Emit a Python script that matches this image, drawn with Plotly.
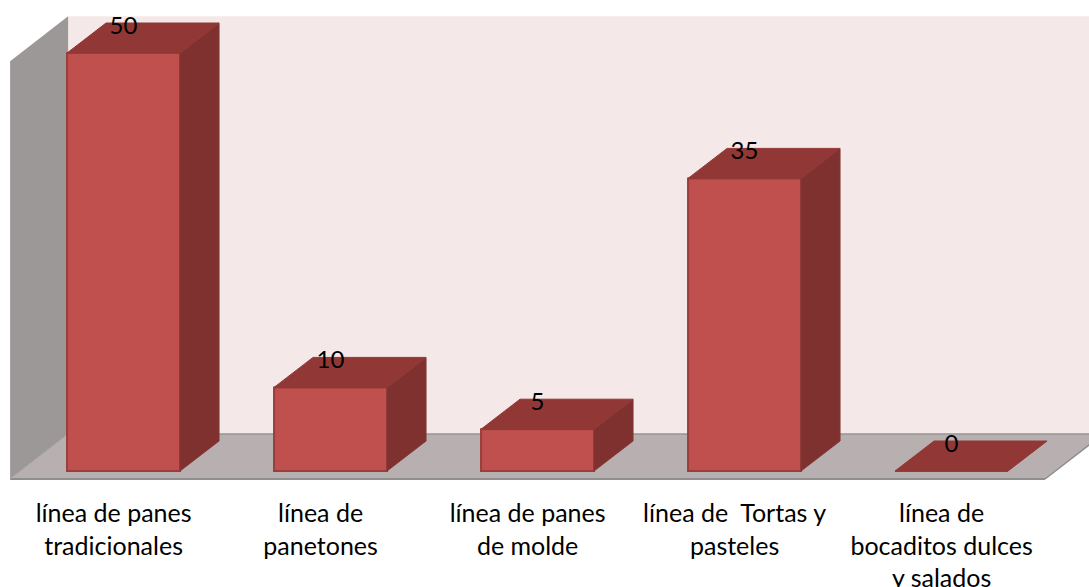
import plotly.graph_objects as go

# Chart content
categories = [
    "línea de panes<br>tradicionales",
    "línea de<br>panetones",
    "línea de panes<br>de molde",
    "línea de  Tortas y<br>pasteles",
    "línea de<br>bocaditos dulces<br>y salados",
]
values = [50, 10, 5, 35, 0]

# Oblique projection, expressed in axis units
BAR_WIDTH = 113 / 207
BAR_SHIFT = 0.048
BAR_DX, BAR_DY = 39 / 207, 30 / 8.36
WALL_DX, WALL_DY = 58 / 207, 45 / 8.36
FLOOR_LEFT, FLOOR_RIGHT = -0.5, 4.5
FLOOR_FRONT = -0.957
WALL_TOP = 54.4
LABEL_LIFT = 3.0

FONT = "Lato, Carlito, sans-serif"
positions = [i + BAR_SHIFT for i in range(len(values))]


def path(points):
    return "M " + " L ".join(f"{x},{y}" for x, y in points) + " Z"


def polygons(faces):
    xs, ys = [], []
    for face in faces:
        xs += [p[0] for p in face] + [face[0][0], None]
        ys += [p[1] for p in face] + [face[0][1], None]
    return xs, ys


back_y = FLOOR_FRONT + WALL_DY
back_x = FLOOR_LEFT + WALL_DX

back_wall = [(back_x, back_y), (back_x, WALL_TOP), (FLOOR_RIGHT + WALL_DX, WALL_TOP), (FLOOR_RIGHT + WALL_DX, back_y)]
left_wall = [(FLOOR_LEFT, FLOOR_FRONT), (back_x, back_y), (back_x, WALL_TOP), (FLOOR_LEFT, WALL_TOP - WALL_DY)]
floor = [(FLOOR_LEFT, FLOOR_FRONT), (FLOOR_RIGHT, FLOOR_FRONT), (FLOOR_RIGHT + WALL_DX, back_y), (back_x, back_y)]

shapes = [
    dict(type="path", path=path(back_wall), fillcolor="#F4E8E8", line_width=0, layer="below"),
    dict(type="path", path=path(left_wall), fillcolor="#9C9898", line_width=0, layer="below"),
    dict(type="path", path=path(floor), fillcolor="#B8B0B0", line_width=0, layer="below"),
    # floor edges
    dict(type="line", x0=back_x, x1=FLOOR_RIGHT + WALL_DX, y0=back_y, y1=back_y,
         line=dict(color="#989494", width=1.5), layer="below"),
    dict(type="line", x0=FLOOR_LEFT, x1=FLOOR_RIGHT, y0=FLOOR_FRONT, y1=FLOOR_FRONT,
         line=dict(color="#8E8E8E", width=2), layer="below"),
    dict(type="line", x0=FLOOR_RIGHT, x1=FLOOR_RIGHT + WALL_DX, y0=FLOOR_FRONT, y1=back_y,
         line=dict(color="#8E8E8E", width=1.5), layer="below"),
    dict(type="line", x0=FLOOR_LEFT, x1=back_x, y0=FLOOR_FRONT, y1=back_y,
         line=dict(color="#A8A4A4", width=1), layer="below"),
]

sides, tops = [], []
for x, v in zip(positions, values):
    left, right = x - BAR_WIDTH / 2, x + BAR_WIDTH / 2
    tops.append([(left, v), (right, v), (right + BAR_DX, v + BAR_DY), (left + BAR_DX, v + BAR_DY)])
    if v > 0:
        sides.append([(right, 0), (right + BAR_DX, BAR_DY), (right + BAR_DX, v + BAR_DY), (right, v)])

fig = go.Figure()

fig.add_trace(go.Bar(
    x=positions, y=values, width=BAR_WIDTH,
    marker=dict(color="#C0504D", line=dict(color="#9A3E3C", width=2)),
    hoverinfo="skip", showlegend=False,
))

side_x, side_y = polygons(sides)
fig.add_trace(go.Scatter(
    x=side_x, y=side_y, mode="lines", fill="toself", fillcolor="#7F3130",
    line=dict(color="#863634", width=1), hoverinfo="skip", showlegend=False,
))

top_x, top_y = polygons(tops)
fig.add_trace(go.Scatter(
    x=top_x, y=top_y, mode="lines", fill="toself", fillcolor="#913836",
    line=dict(color="#913836", width=1), hoverinfo="skip", showlegend=False,
))

fig.add_trace(go.Scatter(
    x=positions, y=[v + LABEL_LIFT for v in values], mode="text",
    text=[str(v) for v in values], textposition="middle center",
    textfont=dict(family=FONT, size=24, color="#000000"),
    hoverinfo="skip", showlegend=False, cliponaxis=False,
))

fig.update_layout(
    width=1089, height=587,
    margin=dict(l=0, r=0, t=0, b=100),
    paper_bgcolor="#FFFFFF", plot_bgcolor="#FFFFFF",
    shapes=shapes, showlegend=False,
    xaxis=dict(
        range=[-113.6 / 207, (1089 - 113.6) / 207],
        tickmode="array", tickvals=list(range(len(categories))), ticktext=categories,
        tickfont=dict(family=FONT, size=25, color="#000000"),
        ticks="", ticklabelstandoff=9, showgrid=False, zeroline=False, showline=False,
        automargin=False,
    ),
    yaxis=dict(
        range=[-16 / 8.36, 471 / 8.36],
        visible=False, showgrid=False, zeroline=False,
        automargin=False,
    ),
)

fig.write_html("out.html", config=dict(displayModeBar=False))
